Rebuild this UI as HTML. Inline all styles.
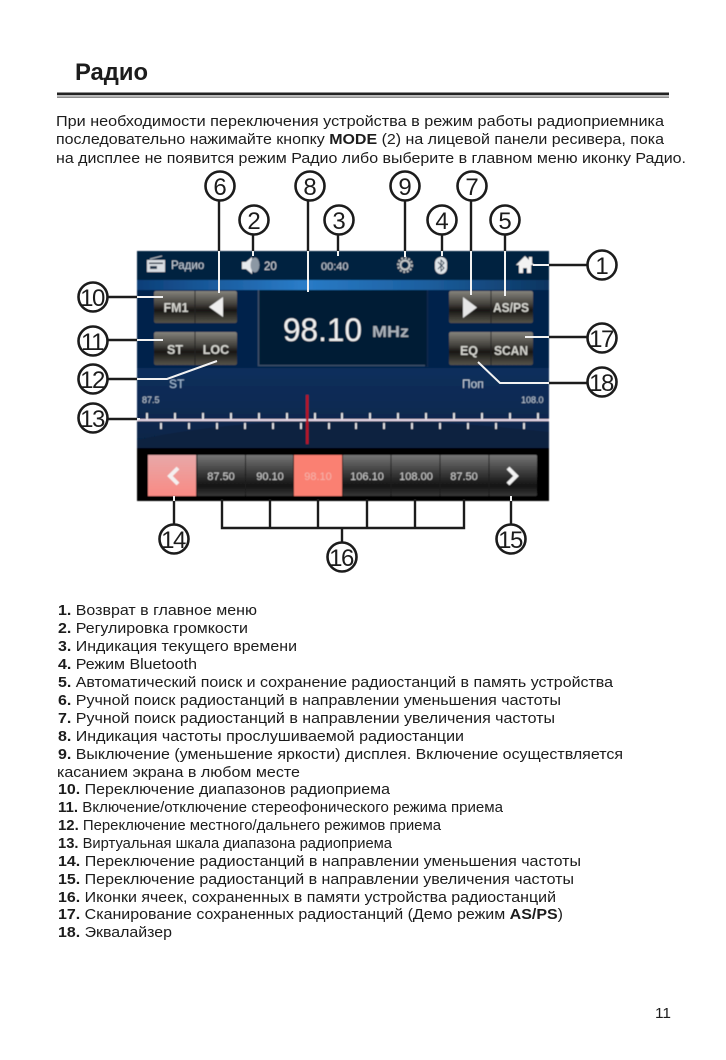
<!DOCTYPE html>
<html lang="ru">
<head>
<meta charset="utf-8">
<title>Радио</title>
<style>
html,body{margin:0;padding:0;background:#fff;width:726px;height:1060px;overflow:hidden}
svg{display:block}
text{font-family:"Liberation Sans",sans-serif}
.t{font-size:15.2px;fill:#1c1c1c}
.n{font-size:24px;fill:#1c1c1c;text-anchor:middle}
.d{letter-spacing:-1.5px}
.c{fill:#fff;stroke:#1c1c1c;stroke-width:2.6}
.k{stroke:#1c1c1c;stroke-width:2.4;fill:none}
.w{stroke:#f2f2f2;stroke-width:2;fill:none}
.b{font-size:12.5px;fill:#d6d6d0;text-anchor:middle;font-weight:bold}
.f{font-size:11px;fill:#d0d0d0;text-anchor:middle}
.s{font-size:9px;fill:#c0ccd8}
</style>
</head>
<body>
<svg width="726" height="1060" viewBox="0 0 726 1060" xmlns="http://www.w3.org/2000/svg">
<defs>
<linearGradient id="bg" x1="0" y1="0" x2="0" y2="1">
<stop offset="0" stop-color="#0b3d76"/><stop offset=".45" stop-color="#0a305e"/><stop offset="1" stop-color="#041c38"/>
</linearGradient>
<linearGradient id="strip" x1="0" y1="0" x2="1" y2="0">
<stop offset="0" stop-color="#0d3f78"/><stop offset=".4" stop-color="#2a7cc8"/><stop offset=".7" stop-color="#1c5f9f"/><stop offset="1" stop-color="#0d3560"/>
</linearGradient>
<linearGradient id="btn" x1="0" y1="0" x2="0" y2="1">
<stop offset="0" stop-color="#85837c"/><stop offset=".4" stop-color="#45433e"/><stop offset=".6" stop-color="#181714"/><stop offset="1" stop-color="#55534a"/>
</linearGradient>
<linearGradient id="cell" x1="0" y1="0" x2="0" y2="1">
<stop offset="0" stop-color="#767676"/><stop offset=".45" stop-color="#383838"/><stop offset=".75" stop-color="#141414"/><stop offset="1" stop-color="#363636"/>
</linearGradient>
<linearGradient id="pink" x1="0" y1="0" x2="0" y2="1">
<stop offset="0" stop-color="#e8a8a8"/><stop offset="1" stop-color="#f98a84"/>
</linearGradient>
<filter id="soft" x="-2%" y="-2%" width="104%" height="104%"><feGaussianBlur stdDeviation=".65"/></filter>
</defs>

<rect width="726" height="1060" fill="#fff"/>

<text x="75" y="80" font-size="24" font-weight="bold" fill="#1c1c1c" textLength="73" lengthAdjust="spacingAndGlyphs">Радио</text>
<rect x="57" y="92.5" width="612" height="2.8" fill="#222"/>
<rect x="57" y="96.6" width="612" height="1" fill="#444"/>

<text class="t" x="56" y="126" textLength="608" lengthAdjust="spacingAndGlyphs">При необходимости переключения устройства в режим работы радиоприемника</text>
<text class="t" x="56" y="144" textLength="608" lengthAdjust="spacingAndGlyphs">последовательно нажимайте кнопку <tspan font-weight="bold">MODE</tspan> (2) на лицевой панели ресивера, пока</text>
<text class="t" x="56" y="163" textLength="630" lengthAdjust="spacingAndGlyphs">на дисплее не появится режим Радио либо выберите в главном меню иконку Радио.</text>

<!-- screen -->
<g filter="url(#soft)">
<rect x="137" y="251" width="412" height="250" fill="url(#bg)"/>
<rect x="137" y="251" width="412" height="29" fill="#06203f"/>
<rect x="137" y="280" width="412" height="10" fill="url(#strip)"/>
<rect x="137" y="290" width="412" height="78" fill="#06244c"/>
<path d="M137 440 Q300 405 549 432 L549 448 L137 448Z" fill="#0a1f3c" opacity=".7"/>

<!-- top bar -->
<path d="M150 259l12-3" stroke="#b8c0c8" stroke-width="1"/>
<rect x="147" y="260" width="18" height="12" fill="#d8dde2"/>
<rect x="150" y="266" width="7" height="3" fill="#26384c"/>
<rect x="149" y="262.5" width="14" height="1.5" fill="#26384c"/>
<text x="171" y="269" font-size="11.5" fill="#c6d0da">Радио</text>
<path d="M242 262h4l6-5v17l-6-5h-4z" fill="#e6e9ec"/>
<ellipse cx="255" cy="265" rx="4.500" ry="7.500" fill="#8c98a4"/>
<text x="264" y="270" font-size="11.5" fill="#d2d8de">20</text>
<text x="321" y="270" font-size="11" fill="#c6d0da">00:40</text>
<circle cx="405" cy="265" r="4.500" fill="none" stroke="#c4c8c8" stroke-width="2"/>
<circle cx="405" cy="265" r="7" fill="none" stroke="#b8bcbc" stroke-width="2" stroke-dasharray="2 1.6"/>
<rect x="435" y="257" width="12" height="17" rx="6" fill="#dfe4e8"/>
<path d="M438 262l6 6-3 3v-11l3 3-6 6" fill="none" stroke="#34485c" stroke-width="1"/>
<path d="M516 265l9-9 4 4v-3h3v6l2 2h-3v8h-4v-5h-4v5h-4v-8z" fill="#f2f2f2"/>

<!-- left buttons -->
<rect x="154" y="291" width="83" height="32" rx="2" fill="url(#btn)"/>
<rect x="154" y="332" width="83" height="33" rx="2" fill="url(#btn)"/>
<line x1="195" y1="291" x2="195" y2="323" stroke="#222"/>
<line x1="195" y1="332" x2="195" y2="365" stroke="#222"/>
<text class="b" x="176" y="312">FM1</text>
<path d="M223 297v20l-14-10z" fill="#eee"/>
<text class="b" x="175" y="354">ST</text>
<text class="b" x="216" y="354">LOC</text>

<!-- frequency panel -->
<rect x="258" y="290" width="169" height="76" fill="#061a34"/>
<path d="M258.500 290V365.500H425" fill="none" stroke="#3c5068" stroke-width="1.600"/>
<path d="M427.500 290V367" fill="none" stroke="#0c2a4c" stroke-width="1.500"/>
<text x="283" y="341" font-size="32" fill="#f0f0f0" textLength="79" lengthAdjust="spacingAndGlyphs">98.10</text>
<text x="372" y="337" font-size="15.500" font-weight="bold" fill="#aab2ba" textLength="37" lengthAdjust="spacingAndGlyphs">MHz</text>

<!-- right buttons -->
<rect x="449" y="291" width="84" height="32" rx="2" fill="url(#btn)"/>
<rect x="449" y="332" width="84" height="33" rx="2" fill="url(#btn)"/>
<line x1="491" y1="291" x2="491" y2="323" stroke="#222"/>
<line x1="491" y1="332" x2="491" y2="365" stroke="#222"/>
<path d="M463 297v21l14-10.500z" fill="#e6e6e6"/>
<text class="b" x="511" y="312" textLength="36" lengthAdjust="spacingAndGlyphs">AS/PS</text>
<text class="b" x="469" y="355">EQ</text>
<text class="b" x="511" y="355" textLength="34" lengthAdjust="spacingAndGlyphs">SCAN</text>

<text x="169" y="388" font-size="12" fill="#a8c0d8">ST</text>
<text x="462" y="388" font-size="12" fill="#c0ccd8">Поп</text>

<!-- scale -->
<text class="s" x="142" y="403">87.5</text>
<text class="s" x="521" y="403">108.0</text>
<rect x="137" y="419" width="412" height="2.200" fill="#e6d8e6"/>
<path fill="none" stroke="#f4f4f4" stroke-width="1.700" d="M147 413v6M175 413v6M203 413v6M231 413v6M259 413v6M287 413v6M315 413v6M342 413v6M370 413v6M398 413v6M426 413v6M454 413v6M482 413v6M510 413v6M538 413v6M161 423v6M189 423v6M217 423v6M245 423v6M273 423v6M301 423v6M329 423v6M356 423v6M384 423v6M412 423v6M440 423v6M468 423v6M496 423v6M524 423v6"/>
<rect x="306" y="395" width="2.500" height="49" fill="#b81428"/>

<!-- bottom bar -->
<rect x="137" y="448" width="412" height="53" fill="#050505"/>
<rect x="148" y="455" width="389" height="41" rx="1" fill="url(#cell)"/>
<rect x="148" y="455" width="48" height="41" fill="url(#pink)"/>
<rect x="294" y="455" width="48" height="41" fill="#fa8072"/>
<path d="M197 455v41M245.500 455v41M293.500 455v41M342.500 455v41M391 455v41M440 455v41M489 455v41" stroke="#1a1a1a" stroke-width="1"/>
<path d="M178 468l-8 8 8 8" fill="none" stroke="#f4f0f0" stroke-width="4"/>
<path d="M508 468l8 8-8 8" fill="none" stroke="#f4f4f4" stroke-width="4"/>
<text class="f" x="221" y="480">87.50</text>
<text class="f" x="270" y="480">90.10</text>
<text class="f" x="318" y="480" style="fill:#f4b4ac">98.10</text>
<text class="f" x="367" y="480">106.10</text>
<text class="f" x="416" y="480">108.00</text>
<text class="f" x="464" y="480">87.50</text>
</g>

<!-- white leaders in screen -->
<path class="w" d="M219 251V293M253 251V256M308 251V292M338 251V256M405 251V257M442 251V256M471 251V295M505 251V296M549 265H533M137 297H163M137 340H163M137 379H167L217 361M549 337H525M549 383H500L478 362M137 419H140"/>
<path class="w" d="M174 496V501M511 496V501"/>

<!-- black leaders -->
<path class="k" d="M219 200V251M253 234V251M308 200V251M338 234V251M405 200V251M442 234V251M471 200V251M505 234V251"/>
<path class="k" d="M549 265H588M108 297H137M108 340H137M108 379H137M108 419H137M549 337H588M549 383H588"/>
<path class="k" d="M174 501V525M511 501V525"/>
<path class="k" d="M222 499V528H464V499M270 499V528M318 499V528M367 499V528M415 499V528M342 528V543"/>

<!-- callouts -->
<g>
<circle class="c" cx="220" cy="186" r="14.500"/><text class="n" x="220" y="195">6</text>
<circle class="c" cx="310" cy="186" r="14.500"/><text class="n" x="310" y="195">8</text>
<circle class="c" cx="405" cy="186" r="14.500"/><text class="n" x="405" y="195">9</text>
<circle class="c" cx="472" cy="186" r="14.500"/><text class="n" x="472" y="195">7</text>
<circle class="c" cx="254" cy="220" r="14.500"/><text class="n" x="254" y="229">2</text>
<circle class="c" cx="339" cy="220" r="14.500"/><text class="n" x="339" y="229">3</text>
<circle class="c" cx="442" cy="220" r="14.500"/><text class="n" x="442" y="229">4</text>
<circle class="c" cx="505" cy="220" r="14.500"/><text class="n" x="505" y="229">5</text>
<circle class="c" cx="602" cy="265" r="14.500"/><text class="n" x="602" y="274">1</text>
<circle class="c" cx="93" cy="297" r="14.500"/><text class="n d" x="92" y="306">10</text>
<circle class="c" cx="93" cy="341" r="14.500"/><text class="n d" x="92" y="350">11</text>
<circle class="c" cx="93" cy="379" r="14.500"/><text class="n d" x="92" y="388">12</text>
<circle class="c" cx="93" cy="418" r="14.500"/><text class="n d" x="92" y="427">13</text>
<circle class="c" cx="602" cy="338" r="14.500"/><text class="n d" x="601" y="347">17</text>
<circle class="c" cx="602" cy="382" r="14.500"/><text class="n d" x="601" y="391">18</text>
<circle class="c" cx="174" cy="539" r="14.500"/><text class="n d" x="173" y="548">14</text>
<circle class="c" cx="511" cy="539" r="14.500"/><text class="n d" x="510" y="548">15</text>
<circle class="c" cx="342" cy="557" r="14.500"/><text class="n d" x="341" y="566">16</text>
</g>

<!-- list -->
<text class="t" x="58" y="615" textLength="199" lengthAdjust="spacingAndGlyphs"><tspan font-weight="bold">1.</tspan> Возврат в главное меню</text>
<text class="t" x="58" y="633" textLength="190" lengthAdjust="spacingAndGlyphs"><tspan font-weight="bold">2.</tspan> Регулировка громкости</text>
<text class="t" x="58" y="651" textLength="239" lengthAdjust="spacingAndGlyphs"><tspan font-weight="bold">3.</tspan> Индикация текущего времени</text>
<text class="t" x="58" y="669" textLength="139" lengthAdjust="spacingAndGlyphs"><tspan font-weight="bold">4.</tspan> Режим Bluetooth</text>
<text class="t" x="58" y="687" textLength="555" lengthAdjust="spacingAndGlyphs"><tspan font-weight="bold">5.</tspan> Автоматический поиск и сохранение радиостанций в память устройства</text>
<text class="t" x="58" y="705" textLength="503" lengthAdjust="spacingAndGlyphs"><tspan font-weight="bold">6.</tspan> Ручной поиск радиостанций в направлении уменьшения частоты</text>
<text class="t" x="58" y="723" textLength="497" lengthAdjust="spacingAndGlyphs"><tspan font-weight="bold">7.</tspan> Ручной поиск радиостанций в направлении увеличения частоты</text>
<text class="t" x="58" y="741" textLength="406" lengthAdjust="spacingAndGlyphs"><tspan font-weight="bold">8.</tspan> Индикация частоты прослушиваемой радиостанции</text>
<text class="t" x="58" y="759" textLength="565" lengthAdjust="spacingAndGlyphs"><tspan font-weight="bold">9.</tspan> Выключение (уменьшение яркости) дисплея. Включение осуществляется</text>
<text class="t" x="57" y="777" textLength="243" lengthAdjust="spacingAndGlyphs">касанием экрана в любом месте</text>
<text class="t" x="58" y="794" textLength="332" lengthAdjust="spacingAndGlyphs"><tspan font-weight="bold">10.</tspan> Переключение диапазонов радиоприема</text>
<text class="t" x="58" y="812" textLength="445" lengthAdjust="spacingAndGlyphs"><tspan font-weight="bold">11.</tspan> Включение/отключение стереофонического режима приема</text>
<text class="t" x="58" y="830" textLength="383" lengthAdjust="spacingAndGlyphs"><tspan font-weight="bold">12.</tspan> Переключение местного/дальнего режимов приема</text>
<text class="t" x="58" y="848" textLength="334" lengthAdjust="spacingAndGlyphs"><tspan font-weight="bold">13.</tspan> Виртуальная шкала диапазона радиоприема</text>
<text class="t" x="58" y="866" textLength="523" lengthAdjust="spacingAndGlyphs"><tspan font-weight="bold">14.</tspan> Переключение радиостанций в направлении уменьшения частоты</text>
<text class="t" x="58" y="884" textLength="516" lengthAdjust="spacingAndGlyphs"><tspan font-weight="bold">15.</tspan> Переключение радиостанций в направлении увеличения частоты</text>
<text class="t" x="58" y="902" textLength="498" lengthAdjust="spacingAndGlyphs"><tspan font-weight="bold">16.</tspan> Иконки ячеек, сохраненных в памяти устройства радиостанций</text>
<text class="t" x="58" y="919" textLength="505" lengthAdjust="spacingAndGlyphs"><tspan font-weight="bold">17.</tspan> Сканирование сохраненных радиостанций (Демо режим <tspan font-weight="bold">AS/PS</tspan>)</text>
<text class="t" x="58" y="937" textLength="114" lengthAdjust="spacingAndGlyphs"><tspan font-weight="bold">18.</tspan> Эквалайзер</text>

<text class="t" x="655" y="1018" textLength="16" lengthAdjust="spacingAndGlyphs">11</text>
</svg>
</body>
</html>
